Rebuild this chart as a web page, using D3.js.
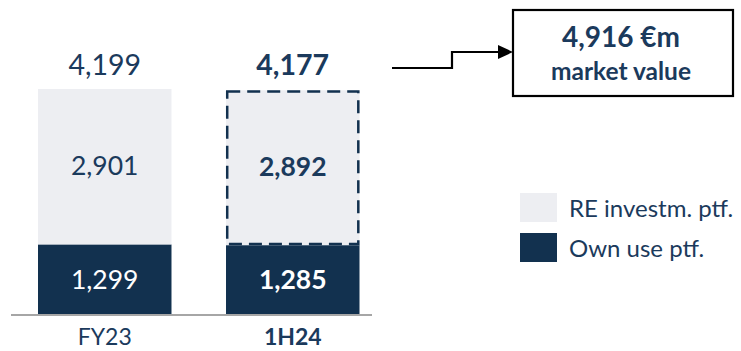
<!DOCTYPE html>
<html><head><meta charset="utf-8">
<script src="https://cdn.jsdelivr.net/npm/d3@7"></script>
<style>html,body{margin:0;padding:0;background:#fff;}svg{display:block;font-family:Lato,"Open Sans",sans-serif;}</style>
</head><body><svg id="c" width="741" height="351"></svg>
<script>
const categories = ["FY23", "1H24"];
const ownUse = [1299, 1285];
const reInvest = [2901, 2892];
const totals = [4199, 4177];
const totalLabels = ["4,199", "4,177"];
const ownLabels = ["1,299", "1,285"];
const reLabels = ["2,901", "2,892"];
const boldFlags = [false, true];
const seriesNames = ["RE investm. ptf.", "Own use ptf."];
const calloutValue = "4,916 €m";
const calloutText = "market value";

const navy = "#12314f", light = "#edeef2", txt = "#1b3a5c";
const svg = d3.select("#c");
const x = d3.scaleBand().domain(categories).range([38, 359.5]).paddingInner(0.29).paddingOuter(0);
const y = d3.scaleLinear().domain([0, 4200]).range([314, 89]);

const data = categories.map((c, i) => ({c, own: ownUse[i], re: reInvest[i], tot: totals[i], i}));

// bars
svg.selectAll(".own").data(data).join("rect")
  .attr("x", d => x(d.c)).attr("width", x.bandwidth())
  .attr("y", d => y(d.own)).attr("height", d => y(0) - y(d.own)).attr("fill", navy);
svg.selectAll(".re").data(data).join("rect")
  .attr("x", d => x(d.c)).attr("width", x.bandwidth())
  .attr("y", d => y(d.own + d.re)).attr("height", d => y(d.own) - y(d.own + d.re)).attr("fill", light);

// dashed outline on 1H24 RE segment
const d1 = data[1];
svg.append("rect")
  .attr("x", x(d1.c) + 1.2).attr("width", x.bandwidth() - 2.4)
  .attr("y", y(d1.own + d1.re) + 1.2).attr("height", y(d1.own) - y(d1.own + d1.re) - 2.4)
  .attr("fill", "none").attr("stroke", navy).attr("stroke-width", 2.5).attr("stroke-dasharray", "13,7");

// baseline
svg.append("line").attr("x1", 11).attr("x2", 372).attr("y1", y(0) + 1).attr("y2", y(0) + 1)
  .attr("stroke", "#a6a6a6").attr("stroke-width", 2);

// labels
const fsIn = 26.5, fsTot = 28.5;
svg.selectAll(".ol").data(data).join("text")
  .attr("x", d => x(d.c) + x.bandwidth() / 2).attr("y", d => (y(0) + y(d.own)) / 2)
  .attr("dy", "0.36em").attr("text-anchor", "middle").attr("font-size", fsIn)
  .attr("font-weight", d => boldFlags[d.i] ? 700 : 400).attr("fill", "#fff").text(d => ownLabels[d.i]);
svg.selectAll(".rl").data(data).join("text")
  .attr("x", d => x(d.c) + x.bandwidth() / 2).attr("y", d => (y(d.own) + y(d.own + d.re)) / 2 - 1)
  .attr("dy", "0.36em").attr("text-anchor", "middle").attr("font-size", fsIn)
  .attr("font-weight", d => boldFlags[d.i] ? 700 : 400).attr("fill", txt).text(d => reLabels[d.i]);
svg.selectAll(".tl").data(data).join("text")
  .attr("x", d => x(d.c) + x.bandwidth() / 2).attr("y", 75)
  .attr("text-anchor", "middle").attr("font-size", fsTot)
  .attr("font-weight", d => boldFlags[d.i] ? 700 : 400).attr("fill", txt).text(d => totalLabels[d.i]);
svg.selectAll(".cl").data(data).join("text")
  .attr("x", d => x(d.c) + x.bandwidth() / 2).attr("y", 345)
  .attr("text-anchor", "middle").attr("font-size", 23)
  .attr("font-weight", d => boldFlags[d.i] ? 700 : 400).attr("fill", txt).text(d => d.c);

// arrow connector
svg.append("path").attr("d", "M392,68H452V52H505")
  .attr("fill", "none").attr("stroke", "#000").attr("stroke-width", 2.2);
svg.append("path").attr("d", "M498,45L513,52L498,59Z").attr("fill", "#000");

// callout box
svg.append("rect").attr("x", 513).attr("y", 10).attr("width", 220).attr("height", 86)
  .attr("fill", "#fff").attr("stroke", "#000").attr("stroke-width", 2.2);
svg.append("text").attr("x", 621).attr("y", 47).attr("text-anchor", "middle")
  .attr("font-size", 28).attr("font-weight", 700).attr("fill", txt).text(calloutValue);
svg.append("text").attr("x", 621).attr("y", 80).attr("text-anchor", "middle")
  .attr("font-size", 24.5).attr("font-weight", 700).attr("fill", txt).text(calloutText);

// legend
const legColors = [light, navy];
const lg = svg.selectAll(".lg").data(seriesNames).join("g")
  .attr("transform", (d, i) => `translate(520,${193 + i * 40})`);
lg.append("rect").attr("width", 37).attr("height", 29).attr("fill", (d, i) => legColors[i]);
lg.append("text").attr("x", 49).attr("y", 15).attr("dy", "0.36em").attr("font-size", 24)
  .attr("fill", txt).text(d => d);
</script></body></html>
